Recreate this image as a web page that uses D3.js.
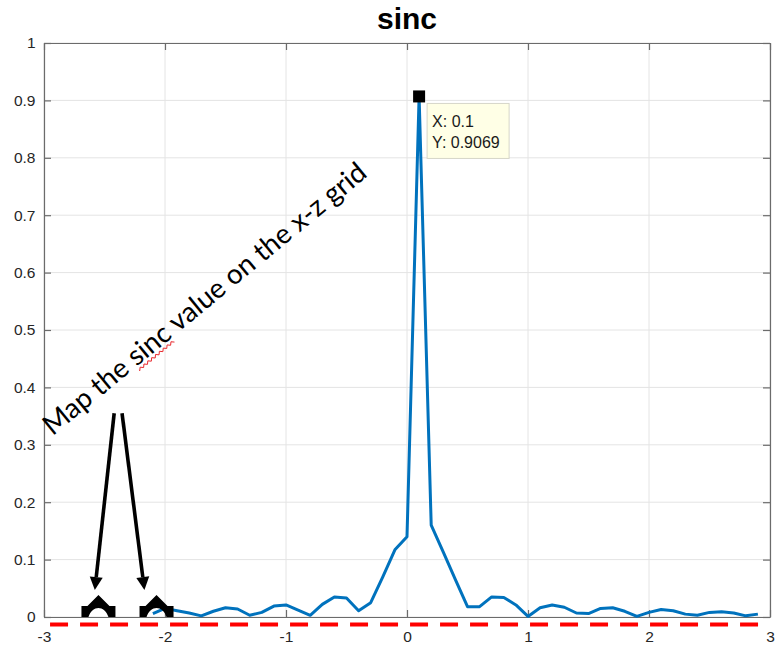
<!DOCTYPE html>
<html>
<head>
<meta charset="utf-8">
<script src="https://cdn.jsdelivr.net/npm/d3@7"></script>
<style>
  html, body { margin: 0; padding: 0; background: #fff; }
  svg { display: block; }
</style>
</head>
<body>
<svg id="chart" width="775" height="650"></svg>
<script>
// Sampled sinc slice
const sincX = [-2.1,-2.0,-1.9,-1.8,-1.7,-1.6,-1.5,-1.4,-1.3,-1.2,
               -1.1,-1.0,-0.9,-0.8,-0.7,-0.6,-0.5,-0.4,-0.3,-0.2,
               -0.1,0.0,0.1,0.2,0.3,0.4,0.5,0.6,0.7,0.8,
               0.9,1.0,1.1,1.2,1.3,1.4,1.5,1.6,1.7,1.8,
               1.9,2.0,2.1,2.2,2.3,2.4,2.5,2.6,2.7,2.8,2.9];
const sincY = [0.006,0.015,0.011,0.007,0.002,0.010,0.016,0.014,0.003,0.008,
               0.019,0.021,0.012,0.003,0.022,0.035,0.033,0.011,0.025,0.070,
               0.117,0.140,0.9069,0.160,0.113,0.065,0.018,0.018,0.035,0.034,
               0.021,0.001,0.016,0.021,0.017,0.007,0.006,0.015,0.016,0.010,
               0.001,0.008,0.013,0.011,0.005,0.003,0.008,0.009,0.007,0.002,0.005];

const xTicks = [-3,-2,-1,0,1,2,3];
const yTicks = [0,0.1,0.2,0.3,0.4,0.5,0.6,0.7,0.8,0.9,1];

const titleText = "sinc";
const noteText = "Map the sinc value on the x-z grid";
const noteAnchor = [-2.93, 0.315];     // start of the rotated note (data units)
const squiggleWord = "sinc";

// Data tip on the peak sample
const tipX = 0.1;
const tipY = sincY[sincX.indexOf(tipX)];

// Annotation arrows: [x0, y0, x1, y1] in data units
const arrowSegs = [[-2.42, 0.355, -2.58, 0.047],
                   [-2.355, 0.355, -2.17, 0.047]];
// Caret markers sitting on the x axis
const caretX = [-2.55, -2.07];
// Dashed reference line just under the axis
const redLineY = -0.013;
const redLineX = [-2.95, 3];

const W = 775, H = 650;
const m = {left: 44, right: 5, top: 43, bottom: 33};
const svg = d3.select("#chart");

const x = d3.scaleLinear().domain([-3, 3]).range([m.left, W - m.right]);
const y = d3.scaleLinear().domain([0, 1]).range([H - m.bottom, m.top]);

const axisColor = "#6b6b6b";
const labelColor = "#262626";
const tickFont = "Liberation Sans, Arial, Helvetica, sans-serif";

// Grid
const grid = svg.append("g").attr("stroke", "#e4e4e4").attr("stroke-width", 1);
grid.selectAll("line.v").data(xTicks).join("line")
  .attr("x1", d => x(d)).attr("x2", d => x(d))
  .attr("y1", y(0)).attr("y2", y(1));
grid.selectAll("line.h").data(yTicks).join("line")
  .attr("x1", x(-3)).attr("x2", x(3))
  .attr("y1", d => y(d)).attr("y2", d => y(d));

// Axes (ticks pointing inward, box on all four sides)
function styleAxis(g) {
  g.selectAll("path.domain").attr("stroke", axisColor).attr("stroke-width", 1.2);
  g.selectAll(".tick line").attr("stroke", axisColor).attr("stroke-width", 1.2);
  g.selectAll(".tick text").attr("fill", labelColor)
    .attr("font-family", tickFont).attr("font-size", "15.5px");
}
svg.append("g").attr("transform", `translate(0,${y(0)})`)
  .call(d3.axisBottom(x).tickValues(xTicks).tickFormat(d => String(d))
    .tickSizeInner(-7).tickSizeOuter(0).tickPadding(14))
  .call(styleAxis);
svg.append("g").attr("transform", `translate(0,${y(1)})`)
  .call(d3.axisTop(x).tickValues(xTicks).tickFormat("")
    .tickSizeInner(-7).tickSizeOuter(0))
  .call(styleAxis);
svg.append("g").attr("transform", `translate(${x(-3)},0)`)
  .call(d3.axisLeft(y).tickValues(yTicks).tickFormat(d => String(d))
    .tickSizeInner(-7).tickSizeOuter(0).tickPadding(8.5))
  .call(styleAxis);
svg.append("g").attr("transform", `translate(${x(3)},0)`)
  .call(d3.axisRight(y).tickValues(yTicks).tickFormat("")
    .tickSizeInner(-7).tickSizeOuter(0))
  .call(styleAxis);
svg.selectAll("g .tick text").attr("font-family", tickFont);

// Title
svg.append("text")
  .attr("x", (x(-3) + x(3)) / 2).attr("y", 29)
  .attr("text-anchor", "middle")
  .attr("font-family", tickFont).attr("font-weight", "bold")
  .attr("font-size", "30px").attr("fill", "#000")
  .text(titleText);

// Sinc curve
const pts = sincX.map((v, i) => [v, sincY[i]]);
svg.append("path")
  .datum(pts)
  .attr("fill", "none")
  .attr("stroke", "#0072BD")
  .attr("stroke-width", 3)
  .attr("stroke-linejoin", "round")
  .attr("d", d3.line().x(d => x(d[0])).y(d => y(d[1])));

// Red dashed line
svg.append("line")
  .attr("x1", x(redLineX[0])).attr("x2", x(redLineX[1]))
  .attr("y1", y(redLineY)).attr("y2", y(redLineY))
  .attr("stroke", "#ff0000").attr("stroke-width", 4)
  .attr("stroke-dasharray", "18,12");

// Caret markers
const caretPath = "M-17,0 L-17,-11 L-11,-11 L0,-22 L11,-11 L17,-11 L17,0 L10,0 " +
                  "C8,-6 4,-9 0,-9 C-4,-9 -8,-6 -10,0 Z";
svg.selectAll("path.caret").data(caretX).join("path")
  .attr("class", "caret")
  .attr("transform", d => `translate(${x(d)},${y(0)})`)
  .attr("d", caretPath)
  .attr("fill", "#000");

// Arrows
const arrowG = svg.append("g");
arrowSegs.forEach(s => {
  const x0 = x(s[0]), y0 = y(s[1]), x1 = x(s[2]), y1 = y(s[3]);
  const ang = Math.atan2(y1 - y0, x1 - x0);
  const headL = 13, headW = 6.5;
  const bx = x1 - headL * Math.cos(ang), by = y1 - headL * Math.sin(ang);
  arrowG.append("line")
    .attr("x1", x0).attr("y1", y0).attr("x2", bx).attr("y2", by)
    .attr("stroke", "#000").attr("stroke-width", 3.6);
  const px = -Math.sin(ang), py = Math.cos(ang);
  arrowG.append("path")
    .attr("d", `M${x1},${y1} L${bx + px * headW},${by + py * headW} L${bx - px * headW},${by - py * headW} Z`)
    .attr("fill", "#000");
});

// Rotated note with a spell-check squiggle under one word
const noteG = svg.append("g")
  .attr("transform", `translate(${x(noteAnchor[0])},${y(noteAnchor[1])}) rotate(-39.5)`);
const note = noteG.append("text")
  .attr("x", 0).attr("y", 0)
  .attr("font-family", "Lato, 'Open Sans', sans-serif")
  .attr("font-size", "26px").attr("fill", "#000")
  .text(noteText);
const targetLen = 410;
const len0 = note.node().getComputedTextLength();
note.attr("font-size", (26 * targetLen / len0) + "px");
const wi = noteText.indexOf(squiggleWord);
const sx0 = note.node().getSubStringLength(0, wi);
const sw = note.node().getSubStringLength(wi, squiggleWord.length);
let sq = `M${sx0},4`;
for (let t = 0, k = 0; t < sw; t += 2.5, k++) {
  sq += ` L${sx0 + t},${k % 2 ? 2.5 : 5}`;
}
noteG.append("path").attr("d", sq)
  .attr("fill", "none").attr("stroke", "#e8252a").attr("stroke-width", 0.9);

// Data tip
const tpx = x(tipX), tpy = y(tipY);
svg.append("rect")
  .attr("x", tpx - 6).attr("y", tpy - 6).attr("width", 12).attr("height", 12)
  .attr("fill", "#000");
const tipG = svg.append("g").attr("transform", `translate(${tpx + 8},${tpy + 7})`);
tipG.append("rect")
  .attr("x", 0).attr("y", 0).attr("width", 82).attr("height", 55)
  .attr("fill", "#ffffe6").attr("stroke", "#d6d6c8").attr("stroke-width", 1);
tipG.selectAll("text").data([`X: ${tipX}`, `Y: ${tipY}`]).join("text")
  .attr("x", 5).attr("y", (d, i) => 24 + i * 21)
  .attr("font-family", tickFont).attr("font-size", "16px").attr("fill", "#1a1a1a")
  .text(d => d);
</script>
</body>
</html>
